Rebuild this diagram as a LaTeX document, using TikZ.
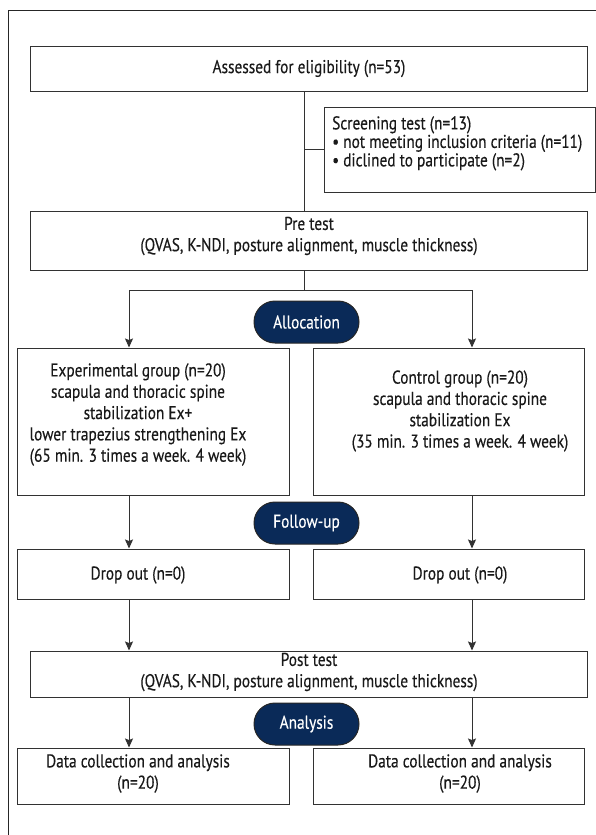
\documentclass[tikz,border=0pt]{standalone}
\usepackage{fontspec}
\setmainfont{PT Sans}[FakeStretch=0.83,FakeBold=0.3]
\usetikzlibrary{arrows.meta,calc}
\definecolor{navy}{RGB}{10,42,88}
\definecolor{lc}{RGB}{50,50,50}
\begin{document}
\begin{tikzpicture}[x=1bp,y=-1bp,
  font=\fontsize{18.5bp}{21.3bp}\selectfont,
  box/.style={draw=lc, line width=1bp, inner sep=0pt, fill=white},
  txt/.style={inner sep=0pt, align=center, text=black!90},
  pill/.style={draw=black!85, line width=1bp, fill=navy, text=white, rounded corners=21bp,
    minimum width=105bp, minimum height=42bp, inner sep=0pt},
  ln/.style={draw=lc, line width=1bp},
  arr/.style={draw=lc, line width=1bp, -{Stealth[length=9bp,width=8bp,inset=1.5bp]}},
  frame/.style={draw=black!85, line width=1bp}]
\useasboundingbox (0,0) rectangle (596,835);
% outer frame
\draw[frame] (8,835) -- (8,10) -- (596,10);
% boxes
\node[box, minimum width=556bp, minimum height=45bp] (elig) at (309,68.5) {};
\node[txt] (eligT) at (309,68.5) {Assessed for eligibility (n=53)};
\node[box, minimum width=271bp, minimum height=85bp] (scr) at (459.5,149.5) {};
\node[txt, anchor=north west, align=left, font=\fontsize{18.5bp}{18.5bp}\selectfont] (scrT) at (332,116)
  {Screening test (n=13)\\• not meeting inclusion criteria (n=11)\\• diclined to participate (n=2)};
\node[box, minimum width=556bp, minimum height=59bp] (pre) at (309,240.5) {};
\node[txt] (preT) at (309,236) {Pre test\\(QVAS, K-NDI, posture alignment, muscle thickness)};
\node[box, minimum width=271bp, minimum height=147bp] (exp) at (153.5,421.5) {};
\node[txt] (expT) at (138,414.5) {Experimental group (n=20)\\scapula and thoracic spine\\stabilization Ex+\\lower trapezius strengthening Ex\\(65 min. 3 times a week. 4 week)};
\node[box, minimum width=271bp, minimum height=147bp] (ctl) at (448.5,421.5) {};
\node[txt] (ctlT) at (460,411) {Control group (n=20)\\scapula and thoracic spine\\stabilization Ex\\(35 min. 3 times a week. 4 week)};
\node[box, minimum width=271bp, minimum height=50bp] (dropL) at (153.5,574) {};
\node[txt] (dropLT) at (138,575) {Drop out (n=0)};
\node[box, minimum width=271bp, minimum height=50bp] (dropR) at (448.5,574) {};
\node[txt] (dropRT) at (460,575) {Drop out (n=0)};
\node[box, minimum width=556bp, minimum height=46bp] (post) at (309,674) {};
\node[txt] (postT) at (309,672) {Post test\\(QVAS, K-NDI, posture alignment, muscle thickness)};
\node[box, minimum width=271bp, minimum height=56bp] (dataL) at (153.5,776) {};
\node[txt] (dataLT) at (138,773.5) {Data collection and analysis\\(n=20)};
\node[box, minimum width=271bp, minimum height=56bp] (dataR) at (448.5,776) {};
\node[txt] (dataRT) at (460,773.5) {Data collection and analysis\\(n=20)};
% connectors
\coordinate (spine) at (304,0);
\coordinate (bl) at (129,290);
\coordinate (br) at (472,290);
\draw[ln] (elig.south -| spine) -- (pre.north -| spine);
\draw[ln] (scr.west) -- (scr.west -| spine);
\draw[ln] (pre.south -| spine) -- (spine |- bl);
\draw[ln] (bl) -- (br);
\draw[arr] (bl) -- (exp.north -| bl);
\draw[arr] (br) -- (ctl.north -| br);
\draw[arr] (exp.south -| bl) -- (dropL.north -| bl);
\draw[arr] (ctl.south -| br) -- (dropR.north -| br);
\draw[arr] (dropL.south -| bl) -- (post.north -| bl);
\draw[arr] (dropR.south -| br) -- (post.north -| br);
\draw[arr] (post.south -| bl) -- (dataL.north -| bl);
\draw[arr] (post.south -| br) -- (dataR.north -| br);
% pills
\node[pill] (alloc) at (306.5,322) {Allocation};
\node[pill] (follow) at (306.5,523) {Follow-up};
\node[pill] (anal) at (306.5,724) {Analysis};
\end{tikzpicture}
\end{document}
